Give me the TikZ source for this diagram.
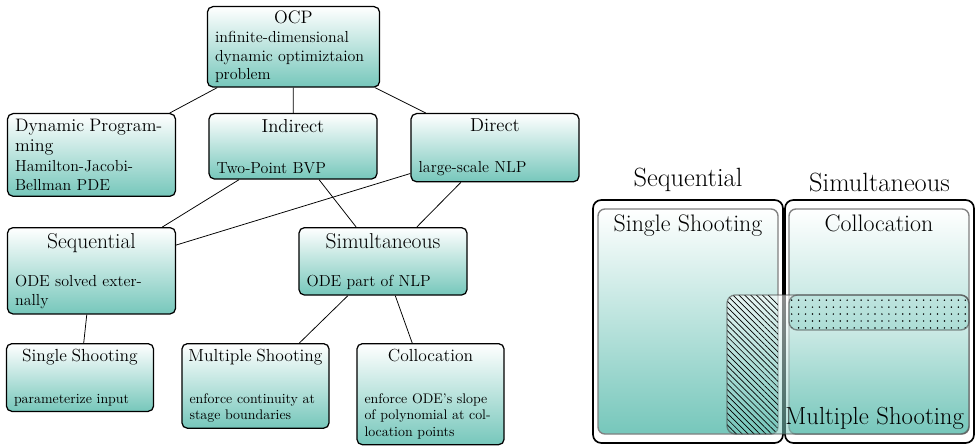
\documentclass[tikz,border=0pt]{standalone}
\usepackage{tikz}
\usetikzlibrary{patterns.meta}
\definecolor{boxbot}{RGB}{118,199,187}
\newlength{\stagegap}
\newcommand{\titlefont}{\fontsize{13.5}{14.5}\selectfont}
\newcommand{\stagetext}[3][\titlefont]{{\centering#1\noindent\makebox[\linewidth][c]{#2}\par}\vspace{\stagegap}{\raggedright #3\par}}
\begin{document}
\begin{tikzpicture}[
    x=0.72pt, y=-0.72pt,
    stage/.style={draw, line width=0.9pt, rounded corners=4pt, top color=white, bottom color=boxbot, inner xsep=5.5pt, inner ysep=4pt, anchor=north},
    upper/.style={stage, text width=110pt, font=\fontsize{11.5}{13.5}\selectfont, execute at begin node={\setlength{\stagegap}{16pt}}},
    lower/.style={stage, text width=95pt, font=\fontsize{10}{12}\selectfont, execute at begin node={\setlength{\stagegap}{18pt}\renewcommand{\titlefont}{\fontsize{12.6}{14}\selectfont}}},
    link/.style={line width=0.55pt},
    group/.style={draw, line width=1.2pt, rounded corners=6pt},
    method/.style={draw=gray, line width=1pt, rounded corners=5pt, top color=white, bottom color=boxbot},
    biglabel/.style={font=\fontsize{19}{23}\selectfont},
    midlabel/.style={font=\fontsize{17.2}{20}\selectfont},
  ]
    \useasboundingbox (0,0) rectangle (976,446);

    % Baum der Verfahren
    \node[stage, text width=113pt, inner ysep=3pt, font=\fontsize{11.5}{13.5}\selectfont] (ocp) at (293.5,6) {{\centering\fontsize{13}{14}\selectfont OCP\par}infinite-dimensional\\dynamic optimiztaion\\problem};
    \node[upper] (dp) at (91.5,113) {{\raggedright\fontsize{13}{14.5}\selectfont Dynamic Program-\\ming\par}\vspace{1pt}{\raggedright Hamilton-Jacobi-\\Bellman PDE\par}};
    \node[upper] (ind) at (293,113) {\stagetext{Indirect}{Two-Point BVP}};
    \node[upper] (dir) at (495,113) {\stagetext{Direct}{large-scale NLP}};
    \node[upper, execute at begin node={\setlength{\stagegap}{14pt}}] (seq) at (91.5,227) {\stagetext[\fontsize{15.5}{17}\selectfont]{Sequential}{ODE solved exter-\\nally}};
    \node[upper, execute at begin node={\setlength{\stagegap}{14pt}}] (sim) at (383,227) {\stagetext[\fontsize{15.5}{17}\selectfont]{Simultaneous}{ODE part of NLP}};
    \node[lower] (ss) at (80,343) {\stagetext{Single Shooting}{parameterize input}};
    \node[lower] (ms) at (255.5,343) {\stagetext{Multiple Shooting}{enforce continuity at\\stage boundaries}};
    \node[lower] (col) at (430.5,343) {\stagetext{Collocation}{enforce ODE's slope\\of polynomial at col-\\location points}};

    % Verbindungen
    \draw[link] (ocp) -- (dp);
    \draw[link] (ocp) -- (ind);
    \draw[link] (ocp) -- (dir);
    \draw[link] (ind) -- (seq);
    \draw[link] (ind) -- (sim);
    \draw[link] (dir) -- (seq);
    \draw[link] (dir) -- (sim);
    \draw[link] (seq) -- (ss);
    \draw[link] (sim) -- (ms);
    \draw[link] (sim) -- (col);

    % Einordnung rechts
    \draw[group] (593,200) rectangle (783,443);
    \draw[group] (785,200) rectangle (974,443);
    \node[biglabel, anchor=south] (lseq) at (688,197) {Sequential};
    \node[biglabel, anchor=south] (lsim) at (879.5,197) {Simultaneous};
    \draw[method] (598,209) rectangle (778,434);
    \draw[method] (789,209) rectangle (969,434);
    \node[midlabel, anchor=north] (lss) at (688,210) {Single Shooting};
    \node[midlabel, anchor=north] (lcol) at (879,210) {Collocation};

    % Multiple Shooting
    \shade[top color=white, bottom color=boxbot, fill opacity=0.55, rounded corners=6pt] (727,295) rectangle (969,434);
    \fill[boxbot, fill opacity=0.35, rounded corners=6pt] (789,295) rectangle (969,330);
    \fill[pattern={Lines[angle=-45, distance=3pt, line width=0.5pt]}, rounded corners=6pt] (727,295) rectangle (778,434);
    \fill[pattern={Dots[distance=5pt, radius=0.6pt]}, rounded corners=6pt] (789,295) rectangle (969,330);
    \draw[draw=black!70, opacity=0.6, line width=1pt, rounded corners=6pt] (789,295) rectangle (969,330);
    \draw[draw=black!70, opacity=0.6, line width=1pt, rounded corners=6pt] (727,295) rectangle (969,434);
    \node[font=\fontsize{17.8}{21}\selectfont, anchor=south east, inner sep=2pt] (lms) at (967,433) {Multiple Shooting};
\end{tikzpicture}
\end{document}
